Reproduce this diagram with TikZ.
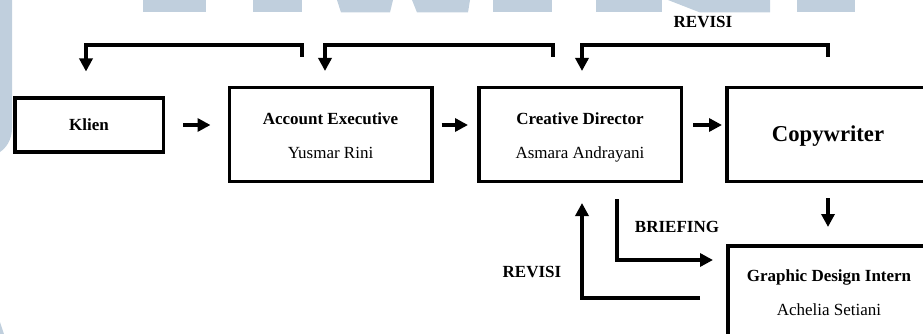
\documentclass[tikz,border=0pt]{standalone}
\usepackage{fontspec}
\setmainfont{Liberation Serif}
\usetikzlibrary{arrows.meta,calc}
\definecolor{wm}{RGB}{192,207,221}
\begin{document}
\begin{tikzpicture}[x=1pt,y=-1pt,
  box/.style={draw, line width=3.5pt, inner sep=0pt, minimum width=202.5pt, minimum height=93.5pt},
  tt/.style={font=\fontsize{17pt}{20pt}\selectfont, inner sep=0pt, anchor=base},
  ttb/.style={tt, font=\fontsize{17pt}{20pt}\selectfont\bfseries},
  arr/.style={line width=4pt, line join=miter, -{Triangle[length=13pt,width=13pt]}}]
\useasboundingbox (0,0) rectangle (923,334);
% watermark
\fill[wm] (0,0) -- (12,0) -- (12,128) .. controls (12,140) and (6,148) .. (0,152) -- cycle;
\fill[wm] (0,322) -- (4,334) -- (0,334) -- cycle;
\fill[wm] (143,0) rectangle (206,12.5);
\fill[wm] (253,0) rectangle (302,12.5);
\fill[wm] (337,0) -- (393,0) -- (390,12.5) -- (341,12.5) -- cycle;
\fill[wm] (412,0) -- (470,0) -- (468,12.5) -- (417,12.5) -- cycle;
\fill[wm] (493,0) rectangle (552,12.5);
\fill[wm] (596,0) rectangle (662,12.5);
\fill[wm] (668,0) -- (770,0) -- (770,12.5) -- (700,12.5) -- cycle;
\fill[wm] (797,0) rectangle (855,12.5);
% boxes
\node[box, minimum width=148.5pt, minimum height=53.5pt, font=\fontsize{17pt}{20pt}\selectfont\bfseries] (klien) at (89,125) {Klien};
\node[box] (ae) at (330.5,134.5) {};
\node[ttb] (aet) at ($(ae.north)+(0,38.5)$) {Account Executive};
\node[tt] (aes) at ($(ae.north)+(0,72)$) {Yusmar Rini};
\node[box] (cd) at (580,134.5) {};
\node[ttb] (cdt) at ($(cd.north)+(0,38.5)$) {Creative Director};
\node[tt] (cds) at ($(cd.north)+(0,72)$) {Asmara Andrayani};
\node[box] (cw) at (828,134.5) {};
\node[tt, font=\fontsize{22.7pt}{26pt}\selectfont\bfseries] (cwt) at ($(cw.north)+(0,55)$) {Copywriter};
\node[box] (gdi) at (829,292.5) {};
\node[ttb] (gdit) at ($(gdi.north)+(0,37.5)$) {Graphic Design Intern};
\node[tt] (gdis) at ($(gdi.north)+(0,71)$) {Achelia Setiani};
% labels
\node[ttb, anchor=center] (rev1) at (703,22) {REVISI};
\node[ttb, anchor=center] (brief) at (677,227) {BRIEFING};
\node[ttb, anchor=center] (rev2) at (532,272) {REVISI};
% forward arrows
\draw[arr, shorten <=18pt, shorten >=17pt] (klien.east) -- (klien.east -| ae.west);
\draw[arr, shorten <=8pt, shorten >=9pt] (klien.east -| ae.east) -- (klien.east -| cd.west);
\draw[arr, shorten <=10pt, shorten >=3pt] (klien.east -| cd.east) -- (klien.east -| cw.west);
\draw[arr, shorten <=15pt, shorten >=17pt] (cw.south) -- (cw.south |- gdi.north);
% feedback arrows (top)
\draw[arr] ($(ae.north)+(-28.5,-29)$) -- ++(0,-12) -| ($(klien.north)+(-3,-25)$);
\draw[arr] ($(cd.north)+(-27,-29)$) -- ++(0,-12) -| ($(ae.north)+(-5.5,-15)$);
\draw[arr] ($(cw.north)+(0,-29)$) -- ++(0,-12) -| ($(cd.north)+(2,-15)$);
% briefing / revisi (bottom)
\draw[arr] ($(cd.south)+(37,16)$) |- ($(gdi.west)+(-13,-32.5)$);
\draw[arr] ($(gdi.west)+(-26,5.5)$) -| ($(cd.south)+(2,20)$);
\end{tikzpicture}
\end{document}
